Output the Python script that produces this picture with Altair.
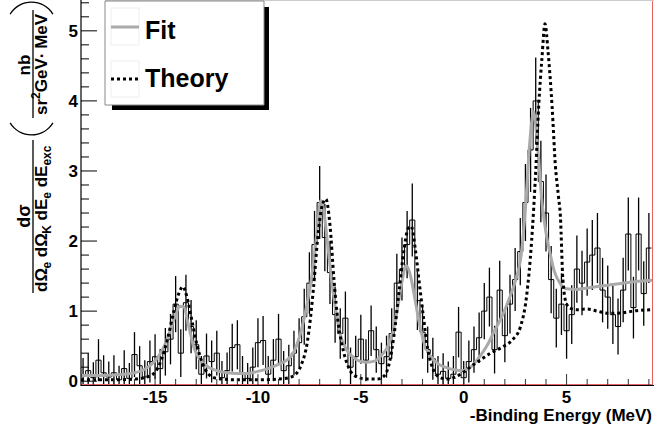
import altair as alt
import pandas as pd

# ---------------- data ----------------
X_MIN, X_MAX = -18.6, 9.2
Y_MIN, Y_MAX = -0.04, 5.44
BIN_W = 0.25
FIRST_EDGE = -18.625

hist_values = [
    0.08, 0.15, 0.05, 0.30, 0.12, 0.06, 0.12, 0.02, 0.18, 0.04,
    0.38, 0.22, 0.06, 0.28, 0.35, 0.18, 0.42, 0.60, 1.10, 0.40,
    1.12, 0.78, 0.52, 0.10, 0.36, 0.28, 0.40, 0.05, 0.15, 0.48,
    0.52, 0.10, 0.04, 0.20, 0.55, 0.58, 0.10, 0.30, 0.60, 0.15,
    0.22, 0.40, 0.55, 0.92, 1.40, 1.95, 2.55, 2.05, 1.55, 0.95,
    0.68, 0.90, 0.20, 0.35, 0.60, 0.30, 0.72, 0.45, 0.25, 0.35,
    0.68, 1.40, 1.60, 1.95, 2.30, 1.15, 0.70, 0.45, 0.32, 0.10,
    0.14, 0.04, 0.10, 0.70, 0.05, 0.28, 0.45, 0.62, 1.00, 1.20,
    0.45, 1.30, 0.65, 1.10, 1.45, 1.85, 2.55, 3.30, 4.00, 2.85,
    2.40, 1.45, 0.90, 1.10, 0.72, 0.95, 1.60, 1.40, 1.70, 1.80,
    1.90, 1.30, 1.20, 0.95, 0.78, 1.30, 2.10, 1.05, 2.10, 1.25,
    1.90,
]
hist_errors = [
    0.25, 0.25, 0.22, 0.30, 0.25, 0.22, 0.25, 0.20, 0.26, 0.22,
    0.32, 0.28, 0.24, 0.30, 0.32, 0.28, 0.34, 0.36, 0.40, 0.34,
    0.40, 0.38, 0.35, 0.26, 0.32, 0.30, 0.32, 0.24, 0.26, 0.34,
    0.35, 0.26, 0.22, 0.28, 0.35, 0.35, 0.26, 0.30, 0.36, 0.28,
    0.30, 0.32, 0.35, 0.40, 0.44, 0.48, 0.52, 0.48, 0.45, 0.40,
    0.36, 0.38, 0.28, 0.30, 0.35, 0.30, 0.36, 0.33, 0.30, 0.30,
    0.36, 0.42, 0.45, 0.48, 0.52, 0.42, 0.38, 0.33, 0.30, 0.26,
    0.26, 0.24, 0.26, 0.36, 0.24, 0.30, 0.33, 0.36, 0.40, 0.42,
    0.34, 0.42, 0.38, 0.42, 0.45, 0.48, 0.55, 0.60, 0.62, 0.58,
    0.55, 0.48, 0.42, 0.44, 0.40, 0.42, 0.48, 0.46, 0.48, 0.50,
    0.50, 0.46, 0.45, 0.42, 0.40, 0.46, 0.52, 0.44, 0.52, 0.46,
    0.50,
]

fit_x = [-18.6, -18.0, -17.0, -16.5, -16.0, -15.5, -15.0, -14.6, -14.3, -14.0,
         -13.8, -13.6, -13.4, -13.1, -12.8, -12.4, -12.0, -11.5, -11.0, -10.5,
         -10.0, -9.5, -9.0, -8.6, -8.25, -7.9, -7.6, -7.3, -7.1, -6.95,
         -6.8, -6.6, -6.3, -6.0, -5.7, -5.4, -5.0, -4.7, -4.3, -4.0,
         -3.7, -3.45, -3.2, -3.0, -2.8, -2.6, -2.4, -2.15, -1.9, -1.6,
         -1.2, -0.8, -0.4, -0.1, 0.3, 0.7, 1.1, 1.5, 1.9, 2.2,
         2.5, 2.8, 3.0, 3.2, 3.4, 3.6, 3.8, 4.0, 4.2, 4.4,
         4.7, 5.0, 5.5, 6.0, 7.0, 8.0, 9.2]
fit_y = [0.08, 0.08, 0.09, 0.10, 0.12, 0.17, 0.29, 0.47, 0.69, 0.95,
         1.07, 1.06, 0.83, 0.47, 0.30, 0.20, 0.15, 0.12, 0.11, 0.11,
         0.14, 0.18, 0.24, 0.30, 0.42, 0.72, 1.12, 1.67, 2.22, 2.58,
         2.43, 1.92, 1.17, 0.67, 0.45, 0.35, 0.28, 0.27, 0.29, 0.37,
         0.49, 0.69, 1.07, 1.42, 1.65, 1.52, 1.22, 0.82, 0.52, 0.35,
         0.24, 0.19, 0.16, 0.15, 0.19, 0.32, 0.49, 0.72, 0.95, 1.17,
         1.42, 1.82, 2.47, 3.37, 3.84, 3.32, 2.57, 2.12, 1.82, 1.57,
         1.39, 1.32, 1.31, 1.33, 1.37, 1.41, 1.44]

theory_x = [-18.6, -17.0, -16.0, -15.4, -15.0, -14.7, -14.4, -14.1, -13.85, -13.65,
            -13.45, -13.2, -12.95, -12.7, -12.4, -12.0, -11.0, -10.0, -9.0, -8.5,
            -8.2, -7.9, -7.6, -7.3, -7.1, -6.9, -6.7, -6.5, -6.3, -6.1,
            -5.9, -5.6, -5.3, -4.7, -4.2, -3.85, -3.6, -3.4, -3.15, -2.9,
            -2.7, -2.55, -2.35, -2.15, -1.95, -1.75, -1.5, -1.2, -0.8, -0.4,
            0.0, 0.4, 0.8, 1.3, 1.9, 2.4, 2.75, 3.05, 3.3, 3.5,
            3.65, 3.8, 3.95, 4.1, 4.3, 4.45, 4.6, 4.7, 4.82, 5.0,
            5.2, 5.5, 6.0, 6.5, 7.0, 7.5, 8.0, 8.5, 9.2]
theory_y = [0.02, 0.02, 0.03, 0.06, 0.13, 0.30, 0.60, 0.98, 1.25, 1.35,
            1.20, 0.85, 0.50, 0.26, 0.10, 0.04, 0.02, 0.02, 0.03, 0.05,
            0.09, 0.23, 0.56, 1.33, 2.03, 2.48, 2.60, 2.23, 1.43, 0.83,
            0.50, 0.20, 0.08, 0.03, 0.03, 0.08, 0.28, 0.63, 1.26, 1.88,
            2.18, 2.21, 1.88, 1.38, 0.90, 0.46, 0.18, 0.06, 0.03, 0.06,
            0.13, 0.22, 0.30, 0.40, 0.49, 0.60, 0.77, 1.20, 2.00, 3.00,
            3.95, 4.60, 5.10, 4.70, 3.90, 3.10, 2.65, 2.35, 1.45, 1.10,
            1.04, 1.02, 1.03, 1.00, 0.97, 0.97, 0.99, 1.01, 1.02]

x_label_values = [-15, -10, -5, 0, 5]
x_label_texts = ["-15", "-10", "-5", "0", "5"]
x_minor_ticks = [-18, -17, -16, -14, -13, -12, -11, -9, -8, -7, -6, -4, -3, -2, -1,
                 1, 2, 3, 4, 6, 7, 8, 9]
y_label_values = [0, 1, 2, 3, 4, 5]
y_label_texts = ["0", "1", "2", "3", "4", "5"]
y_minor_ticks = [0.2, 0.4, 0.6, 0.8, 1.2, 1.4, 1.6, 1.8, 2.2, 2.4, 2.6, 2.8,
                 3.2, 3.4, 3.6, 3.8, 4.2, 4.4, 4.6, 4.8, 5.2, 5.4]

legend_labels = ["Fit", "Theory"]
x_title = "-Binding Energy (MeV)"

# ---------------- layout ----------------
W, H = 572, 384
LEFT = 81
FONT = "Liberation Sans"
FIT_COLOR = "#aaaaaa"

xscale = alt.Scale(domain=[X_MIN, X_MAX], nice=False, zero=False)
yscale = alt.Scale(domain=[Y_MIN, Y_MAX], nice=False, zero=False)

def X(field):
    return alt.X(field, scale=xscale, axis=None)

def Y(field):
    return alt.Y(field, scale=yscale, axis=None)

n = len(hist_values)
edges = [FIRST_EDGE + BIN_W * i for i in range(n + 1)]
step_df = pd.DataFrame({"x": edges, "y": hist_values + [hist_values[-1]]})
centers = [FIRST_EDGE + BIN_W * (i + 0.5) for i in range(n)]
err_df = pd.DataFrame({
    "x": centers,
    "lo": [v - e for v, e in zip(hist_values, hist_errors)],
    "hi": [v + e for v, e in zip(hist_values, hist_errors)],
})
fit_df = pd.DataFrame({"x": fit_x, "y": fit_y})
th_df = pd.DataFrame({"x": theory_x, "y": theory_y})
one = pd.DataFrame({"a": [0]})

hist = alt.Chart(step_df).mark_line(interpolate="step-after", color="black",
                                    strokeWidth=1, clip=True).encode(
    x=X("x:Q"), y=Y("y:Q"))

errs = alt.Chart(err_df).mark_rule(color="black", strokeWidth=1.3, clip=True).encode(
    x=X("x:Q"), y=Y("lo:Q"), y2="hi:Q")

fit = alt.Chart(fit_df).mark_line(color=FIT_COLOR, strokeWidth=3, interpolate="monotone",
                                  clip=True).encode(x=X("x:Q"), y=Y("y:Q"))

theory = alt.Chart(th_df).mark_line(color="black", strokeWidth=3, strokeDash=[3, 3],
                                    interpolate="monotone", clip=True).encode(
    x=X("x:Q"), y=Y("y:Q"))

# frame / axes lines
def vrule(x, y0, y1, color, sw=1):
    return alt.Chart(one).mark_rule(color=color, strokeWidth=sw).encode(
        x=alt.value(x), y=alt.value(y0), y2=alt.value(y1))

def hrule(y, x0, x1, color, sw=1, dash=None):
    kw = dict(color=color, strokeWidth=sw)
    if dash:
        kw["strokeDash"] = dash
    return alt.Chart(one).mark_rule(**kw).encode(
        x=alt.value(x0), x2=alt.value(x1), y=alt.value(y))

frame = [
    hrule(384.5, 0, W, "#e86060"),
    vrule(W - 0.5, 0, 384, "#e86060"),
    hrule(385.5, 0, W + 1, "black"),
    vrule(0.0, 0, 386, "black", 1.2),
    hrule(0.5, 105 - LEFT, W + 1, "#cccccc"),
]

ytick_major = alt.Chart(pd.DataFrame({"v": y_label_values})).mark_rule(color="black").encode(
    y=Y("v:Q"), x=alt.value(0), x2=alt.value(16))
ytick_minor = alt.Chart(pd.DataFrame({"v": y_minor_ticks})).mark_rule(color="black").encode(
    y=Y("v:Q"), x=alt.value(0), x2=alt.value(8))
xtick_major = alt.Chart(pd.DataFrame({"v": x_label_values})).mark_rule(color="#333333").encode(
    x=X("v:Q"), y=alt.value(385), y2=alt.value(374))
xtick_minor = alt.Chart(pd.DataFrame({"v": x_minor_ticks})).mark_rule(color="#333333").encode(
    x=X("v:Q"), y=alt.value(385), y2=alt.value(379))

x_labels = alt.Chart(pd.DataFrame({"v": x_label_values, "t": x_label_texts})).mark_text(
    font="Liberation Sans", fontSize=17, fontWeight="bold", color="black",
    align="center", baseline="alphabetic").encode(x=X("v:Q"), y=alt.value(403), text="t:N")
y_labels = alt.Chart(pd.DataFrame({"v": y_label_values, "t": y_label_texts})).mark_text(
    font="Liberation Sans", fontSize=17, fontWeight="bold", color="black",
    align="right", baseline="alphabetic", dy=6).encode(y=Y("v:Q"), x=alt.value(-3), text="t:N")

# text helper (page coordinates -> view coordinates)
def txt(text, px, py, size, weight="bold", align="left", baseline="alphabetic", angle=0):
    kw = dict(text=text, font=FONT, fontSize=size, fontWeight=weight, align=align,
              baseline=baseline, color="black")
    if angle:
        kw["angle"] = angle
    return alt.Chart(one).mark_text(**kw).encode(x=alt.value(px - LEFT), y=alt.value(py))

x_title_mark = txt(x_title, 652, 421, 17, align="right")

# y-axis title (rotated fraction expression)
AW = {'d': 0.611, 'Ω': 0.768, 'E': 0.667, 'e': 0.556, 'K': 0.722, 'x': 0.556, 'c': 0.556,
      's': 0.556, 'r': 0.389, '2': 0.556, 'G': 0.778, 'V': 0.667, 'M': 0.833, '·': 0.278,
      'n': 0.611, 'b': 0.611, 'σ': 0.617}

def tw(s, size):
    return sum(AW.get(ch, 0.55) for ch in s) * size

MAIN, SUB = 17, 12
title_marks = []
def lay(pieces, y_start, base_x):
    y = y_start
    for text, size, shift, gap in pieces:
        title_marks.append(txt(text, base_x + shift, y, size, angle=270))
        y -= tw(text, size) + gap

lay([("dΩ", MAIN, 0, 0), ("e", SUB, 4, 4.7), ("dΩ", MAIN, 0, 0), ("K", SUB, 4, 4.7),
     ("dE", MAIN, 0, 0), ("e", SUB, 4, 4.7), ("dE", MAIN, 0, 0), ("exc", SUB, 4, 0)],
    292, 47)
lay([("sr", MAIN, 0, 0), ("2", SUB, -7, 0), ("GeV", MAIN, 0, 0), ("·", MAIN, 0, 4.7),
     ("MeV", MAIN, 0, 0)], 115, 47)
title_marks.append(txt("dσ", 30, 216, 18, align="center", angle=270))
title_marks.append(txt("nb", 30, 65, MAIN, align="center", angle=270))
title_marks.append(vrule(33 - LEFT, 140, 293, "black", 1.3))
title_marks.append(vrule(33 - LEFT, 10, 118, "black", 1.3))

paren_open = alt.Chart(one).mark_arc(innerRadius=24.3, outerRadius=25.6, color="black").encode(
    x=alt.value(31.5 - LEFT), y=alt.value(110), theta=alt.value(2.11), theta2=alt.value(4.17))
paren_close = alt.Chart(one).mark_arc(innerRadius=24.3, outerRadius=25.6, color="black").encode(
    x=alt.value(31.5 - LEFT), y=alt.value(27), theta=alt.value(5.25), theta2=alt.value(7.31))

# legend
def rect(x0, x1, y0, y1, fill, stroke=None, sw=1):
    kw = dict(fill=fill)
    if stroke:
        kw["stroke"] = stroke
        kw["strokeWidth"] = sw
    return alt.Chart(one).mark_rect(**kw).encode(
        x=alt.value(x0 - LEFT), x2=alt.value(x1 - LEFT), y=alt.value(y0), y2=alt.value(y1))

legend = [
    rect(112, 269, 7, 110, "black"),
    rect(105, 264, 1, 105, "white", "#888888", 1),
    rect(111, 139, 8, 45, "white", "#eeeeee", 1),
    rect(111, 139, 61, 97, "white", "#eeeeee", 1),
    hrule(27, 111 - LEFT, 139 - LEFT, FIT_COLOR, 3),
    hrule(79, 111 - LEFT, 139 - LEFT, "black", 3, [3, 3]),
    txt(legend_labels[0], 145, 39, 25),
    txt(legend_labels[1], 145, 87, 25),
]

chart = alt.layer(
    hist, errs, fit, theory,
    *frame, ytick_major, ytick_minor, xtick_major, xtick_minor, x_labels, y_labels,
    x_title_mark, *title_marks, paren_open, paren_close, *legend,
).properties(
    width=W, height=H, autosize="none",
    padding={"left": LEFT, "top": 0, "right": 1, "bottom": 47},
    background="white",
).configure_view(stroke=None)

chart.save("out.html", embed_options={"renderer": "svg", "actions": False})
